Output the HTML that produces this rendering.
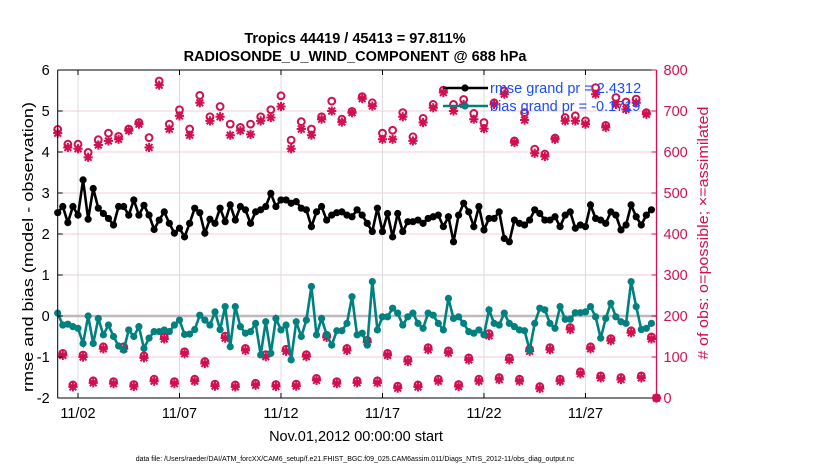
<!DOCTYPE html>
<html><head><meta charset="utf-8"><style>
body{margin:0;background:#fff;}
svg{display:block;font-family:"Liberation Sans",sans-serif;}
</style></head><body>
<svg id="c" width="830" height="470">
<text x="355" y="43" text-anchor="middle" font-size="14.5" font-weight="bold">Tropics 44419 / 45413 = 97.811%</text>
<text x="355" y="61" text-anchor="middle" font-size="14.5" font-weight="bold">RADIOSONDE_U_WIND_COMPONENT @ 688 hPa</text>
<text transform="translate(33,247) rotate(-90)" text-anchor="middle" font-size="15" textLength="290" lengthAdjust="spacingAndGlyphs">rmse and bias (model - observation)</text>
<text transform="translate(708,233) rotate(-90)" text-anchor="middle" font-size="14.5" textLength="253" lengthAdjust="spacingAndGlyphs" fill="#d0104f"># of obs: o=possible; ×=assimilated</text>
<text x="356" y="441" text-anchor="middle" font-size="14.5">Nov.01,2012 00:00:00 start</text>
<text x="355" y="461" text-anchor="middle" font-size="7">data file: /Users/raeder/DAI/ATM_forcXX/CAM6_setup/f.e21.FHIST_BGC.f09_025.CAM6assim.011/Diags_NTrS_2012-11/obs_diag_output.nc</text>
<g id="plot"></g>
</svg>
<script>
const rmse=[2.52,2.67,2.28,2.67,2.46,3.32,2.36,3.11,2.63,2.5,2.38,2.22,2.67,2.67,2.46,2.83,2.46,2.7,2.46,2.11,2.34,2.54,2.26,2.02,2.14,1.93,2.26,2.63,2.52,2.02,2.36,2.26,2.63,2.3,2.71,2.34,2.67,2.59,2.26,2.54,2.59,2.67,2.99,2.67,2.83,2.83,2.75,2.79,2.63,2.59,2.18,2.54,2.67,2.34,2.46,2.52,2.54,2.46,2.42,2.59,2.46,2.26,2.06,2.63,2.06,2.5,1.93,2.5,2.06,2.3,2.3,2.34,2.26,2.38,2.42,2.46,2.18,2.42,1.81,2.46,2.75,2.54,2.18,2.67,2.1,2.38,2.38,2.54,1.89,1.81,2.34,2.26,2.22,2.34,2.59,2.5,2.34,2.34,2.42,2.18,2.46,2.54,2.14,2.22,2.18,2.71,2.38,2.34,2.26,2.54,2.46,2.1,2.22,2.71,2.42,2.22,2.46,2.59];
const bias=[0.07,-0.22,-0.2,-0.26,-0.3,-0.67,0,-0.67,-0.06,-0.46,-0.22,-0.5,-0.73,-0.83,-0.34,-0.5,-0.26,-0.79,-0.54,-0.38,-0.38,-0.34,-0.38,-0.22,-0.1,-0.45,-0.44,-0.33,0.02,-0.1,-0.22,0.1,-0.33,0.23,-0.75,0.23,-0.26,-0.42,-0.38,-0.18,-0.95,-0.14,-0.91,-0.06,-0.34,-0.22,-1.07,-0.14,-0.5,-0.1,0.72,-0.46,-0.06,-0.46,-0.71,-0.36,-0.36,-0.18,0.47,-0.46,-0.42,-0.71,0.84,-0.34,-0.02,-0.02,0.19,0.07,-0.22,-0.02,0.07,-0.18,-0.3,0.07,0.02,-0.18,-0.34,0.43,-0.06,-0.02,-0.18,-0.38,-0.42,-0.34,-0.46,0.15,-0.18,-0.22,0.07,-0.18,-0.26,-0.34,-0.36,-0.83,-0.18,0.19,0.15,-0.18,-0.3,0.23,-0.08,-0.08,0.08,0.08,0.1,0.23,-0.02,-0.54,-0.06,0.31,-0.02,-0.14,-0.18,0.84,0.23,-0.33,-0.3,-0.18];
const possHigh=[655,619,619,599,630,646,638,656,672,635,773,668,703,656,738,686,711,668,660,668,686,703,737,629,674,656,686,724,680,699,735,720,646,653,696,637,682,716,751,716,728,694,672,720,749,627,696,607,595,634,684,688,676,757,665,733,722,729,696,0];
const assimHigh=[646,611,608,587,617,627,631,652,668,611,763,656,688,641,720,676,686,641,652,643,676,684,711,608,656,641,680,700,673,696,730,712,631,631,686,627,672,708,745,700,716,680,657,716,741,623,678,597,589,631,676,676,668,741,660,716,704,720,692,0];
const obsLow=[104,27,100,37,120,35,120,28,98,41,144,35,108,41,84,29,146,27,116,31,101,28,114,29,101,43,148,35,116,37,136,37,104,24,89,27,118,41,110,28,93,41,152,45,93,41,114,23,118,41,167,59,120,49,140,45,159,49,144];
const leftTicks=[-2,-1,0,1,2,3,4,5,6];
const rightTicks=[0,100,200,300,400,500,600,700,800];
const dayTicks=[1,6,11,16,21,26];
const dayLabels=["11/02","11/07","11/12","11/17","11/22","11/27"];

const X0=57.7,X1=656.5,Y0=398,Y1=70;
const xs=d=>X0+(d/29.5)*(X1-X0);
const yl=v=>Y0-(v+2)/8*(Y0-Y1);
const yr=v=>Y0-v/800*(Y0-Y1);
const NS="http://www.w3.org/2000/svg";
const g=document.getElementById('plot');
function mk(t,a,p){const e=document.createElementNS(NS,t);for(const k in a)e.setAttribute(k,a[k]);(p||g).appendChild(e);return e;}
const CR="#d0104f";
leftTicks.forEach(v=>{const e=mk('line',{x1:X0,x2:X1,y1:yl(v),y2:yl(v),stroke:'#f2cdd9','stroke-width':1});

});
dayTicks.forEach(d=>{const e=mk('line',{x1:xs(d),x2:xs(d),y1:Y1,y2:Y0,stroke:'#dcdcdc','stroke-width':1});

});
const zl=mk('line',{x1:X0,x2:X1,y1:yl(0),y2:yl(0),stroke:'#c0b8bc','stroke-width':2.5});


function circ(x,y,p){mk('circle',{cx:x,cy:y,r:3.4,fill:'none',stroke:CR,'stroke-width':2},p);}
function star(x,y,p){const s=4.6,d=3.4;mk('path',{d:`M${x-s} ${y}H${x+s}M${x} ${y-s}V${y+s}M${x-d} ${y-d}L${x+d} ${y+d}M${x-d} ${y+d}L${x+d} ${y-d}`,stroke:CR,'stroke-width':2},p);}
const og=mk('g',{});


possHigh.forEach((v,i)=>{const d=i*0.5;circ(xs(d),yr(v),og);star(xs(d),yr(assimHigh[i]),og);});
obsLow.forEach((v,i)=>{const d=i*0.5+0.25;circ(xs(d),yr(v)-2,og);star(xs(d),yr(v),og);});
function series(arr,col,name){const sg=mk('g',{});


mk('polyline',{points:arr.map((v,i)=>xs(i*0.25)+','+yl(v)).join(' '),fill:'none',stroke:col,'stroke-width':2.6},sg);
arr.forEach((v,i)=>mk('circle',{cx:xs(i*0.25),cy:yl(v),r:3.6,fill:col},sg));}
series(rmse,'#000','rmse-series');
series(bias,'#00807f','bias-series');
const ax=mk('g',{});


mk('line',{x1:X0,x2:X1,y1:Y1,y2:Y1,stroke:'#000'},ax);
mk('line',{x1:X0,x2:X1,y1:Y0,y2:Y0,stroke:'#000'},ax);
mk('line',{x1:X0,x2:X0,y1:Y1,y2:Y0,stroke:'#000'},ax);
mk('line',{x1:X1,x2:X1,y1:Y1,y2:Y0,stroke:CR,'stroke-width':1.3},ax);
leftTicks.forEach(v=>{mk('line',{x1:X0,x2:X0+5,y1:yl(v),y2:yl(v),stroke:'#000'},ax);
const t=mk('text',{x:X0-8,y:yl(v)+5,'text-anchor':'end','font-size':14.5},ax);t.textContent=v;

});
rightTicks.forEach(v=>{mk('line',{x1:X1-5,x2:X1,y1:yr(v),y2:yr(v),stroke:CR},ax);
const t=mk('text',{x:X1+7,y:yr(v)+5,'font-size':14.5,fill:CR},ax);t.textContent=v;

});
dayTicks.forEach((d,i)=>{mk('line',{x1:xs(d),x2:xs(d),y1:Y0,y2:Y0-5,stroke:'#000'},ax);mk('line',{x1:xs(d),x2:xs(d),y1:Y1,y2:Y1+5,stroke:'#000'},ax);
const t=mk('text',{x:xs(d),y:418,'text-anchor':'middle','font-size':14.5},ax);t.textContent=dayLabels[i];

});
const lg=mk('g',{});


[['#000','rmse grand pr = 2.4312',92],['#00807f','bias grand pr = -0.1719',110]].forEach(([c,s,y])=>{
mk('line',{x1:443,x2:488,y1:y-4,y2:y-4,stroke:c,'stroke-width':2.6},lg);
mk('circle',{cx:465,cy:y-4,r:3.6,fill:c},lg);
const t=mk('text',{x:490,y:y+1,'font-size':14.5,fill:'#1a4cff'},lg);t.textContent=s;

});
</script>
</body></html>
